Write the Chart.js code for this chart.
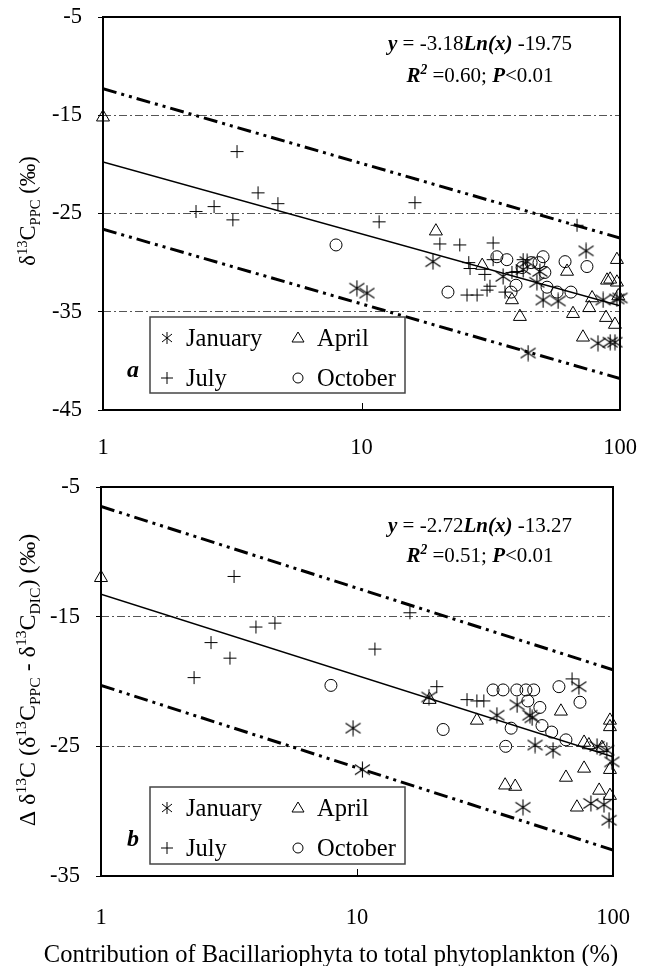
<!DOCTYPE html>
<html>
<head>
<meta charset="utf-8">
<script src="https://cdn.jsdelivr.net/npm/chart.js@4.4.0/dist/chart.umd.min.js"></script>
<style>
body { margin: 0; background: #fff; }
#wrap { position: relative; width: 656px; height: 966px; }
canvas { position: absolute; left: 0; }
</style>
</head>
<body>
<div id="wrap">
  <canvas id="lienzoA" width="656" height="466" style="top:0"></canvas>
  <canvas id="lienzoB" width="656" height="500" style="top:466px"></canvas>
</div>
<script>
// ---- datos ----
const xTicks = [1, 10, 100];
const yTicksA = [-45, -35, -25, -15, -5];
const yTicksB = [-35, -25, -15, -5];
const months = ['January', 'April', 'July', 'October'];

// panel a: d13C PPC
const janA_x = [9.6, 10.5, 18.9, 35.3, 42.2, 43.7, 49.0, 47.7, 50.4, 57.6, 73.9, 86.0, 97.3, 100, 82.2, 91.6, 95.6, 44.1];
const janA_y = [-32.6, -33.1, -29.9, -31.4, -30.7, -29.9, -30.9, -32.0, -33.8, -33.9, -28.8, -33.8, -33.7, -33.6, -38.2, -38.1, -38.1, -39.2];
const aprA_x = [1, 19.4, 29.3, 38.2, 41.0, 62.4, 65.8, 71.9, 78.0, 76.0, 88.3, 89.1, 91.6, 95.6, 97.3, 97.3, 98.5];
const aprA_y = [-15.2, -26.8, -30.3, -33.8, -35.5, -30.9, -35.2, -37.6, -33.6, -34.6, -35.6, -31.8, -31.7, -36.3, -29.7, -32.0, -33.4];
const julA_x = [2.29, 2.69, 3.18, 3.3, 3.98, 4.75, 11.7, 16.1, 20.1, 24.0, 32.3, 26.0, 26.3, 30.0, 32.3, 42.2, 38.2, 40.0, 25.6, 28.0, 30.6, 31.4, 35.9, 68.2];
const julA_y = [-24.8, -24.3, -25.65, -18.7, -22.9, -24.0, -25.85, -23.9, -28.1, -28.2, -28.0, -30.0, -30.6, -31.2, -29.7, -29.7, -31.0, -30.9, -33.3, -33.3, -32.8, -32.4, -33.0, -26.2];
const octA_x = [7.97, 21.6, 33.4, 36.5, 41.8, 45.3, 48.6, 50.4, 51.2, 61.3, 74.5, 39.6, 37.9, 52.2, 57.1, 64.6];
const octA_y = [-28.2, -33.0, -29.4, -29.7, -30.5, -30.0, -30.0, -29.4, -31.0, -29.9, -30.4, -32.3, -33.0, -32.5, -33.0, -33.0];

// panel b: delta d13C (PPC - DIC)
const janB_x = [9.65, 10.5, 19.1, 35.2, 42.2, 47.4, 48.3, 49.6, 58.3, 73.6, 86.6, 94.6, 99, 44.5, 82.0, 92.2, 96.5];
const janB_y = [-23.6, -26.8, -21.2, -22.6, -21.8, -22.6, -22.8, -24.9, -25.3, -20.4, -25.0, -25.3, -26.2, -29.7, -29.4, -29.5, -30.7];
const aprB_x = [1, 19.2, 29.4, 62.6, 77.1, 80.5, 90.5, 97.3, 97.3, 97.3, 77.1, 65.5, 37.9, 41.5, 72.3, 88.3, 97.3];
const aprB_y = [-12.0, -21.4, -23.0, -22.3, -24.7, -24.9, -25.1, -23.0, -23.5, -26.8, -26.7, -27.4, -28.0, -28.1, -29.7, -28.4, -28.8];
const julB_x = [2.31, 2.69, 3.19, 3.31, 4.03, 4.78, 11.75, 16.1, 20.5, 26.9, 29.4, 31.3, 69.2];
const julB_y = [-19.7, -17.0, -18.2, -11.9, -15.8, -15.5, -17.5, -14.7, -20.4, -21.4, -21.5, -21.5, -19.8];
const octB_x = [7.91, 21.7, 34.0, 37.2, 42.1, 45.7, 49.0, 61.5, 74.3, 40.0, 51.8, 52.8, 57.6, 65.5, 38.1, 46.5];
const octB_y = [-20.3, -23.7, -20.65, -20.65, -20.65, -20.65, -20.65, -20.4, -21.6, -23.6, -22.0, -23.4, -23.9, -24.5, -25.0, -21.5];

// lineas de ajuste y limites (extremos en x = 1 y x = 100)
const lineX = [1, 100];
const fitA = [-19.75, -34.39];
const upperA = [-12.3, -27.5];
const lowerA = [-26.6, -41.8];
const fitB = [-13.27, -25.8];
const upperB = [-6.5, -19.1];
const lowerB = [-20.3, -33.0];

const FONT = '"Liberation Serif", "Times New Roman", serif';

// marcador asterisco (January)
const asterisk = document.createElement('canvas');
asterisk.width = 17;
asterisk.height = 17;
(function () {
    const c = asterisk.getContext('2d');
    c.strokeStyle = '#000';
    c.lineWidth = 1.1;
    c.beginPath();
    c.moveTo(8.5, 0.5); c.lineTo(8.5, 16.5);
    c.moveTo(1, 3.5); c.lineTo(16, 13.5);
    c.moveTo(1, 13.5); c.lineTo(16, 3.5);
    c.stroke();
})();

function toPoints(xs, ys) {
    return xs.map((x, i) => ({ x: x, y: ys[i] }));
}

function scatterSet(label, xs, ys, style, radius) {
    return {
        label: label,
        data: toPoints(xs, ys),
        pointStyle: style,
        pointRadius: radius,
        pointBorderColor: '#000',
        pointBackgroundColor: 'rgba(0,0,0,0)',
        pointBorderWidth: 1,
        showLine: false,
        clip: false
    };
}

function lineSet(ys, dash, width) {
    return {
        data: toPoints(lineX, ys),
        showLine: true,
        pointRadius: 0,
        borderColor: '#000',
        borderWidth: width,
        borderDash: dash,
        fill: false
    };
}

// texto con superindices / subindices
function drawRich(ctx, parts, x, y, size, align) {
    let w = 0;
    parts.forEach(p => {
        ctx.font = (p[1] ? 'italic bold ' : '') + (p[2] ? size * 0.65 : size) + 'px ' + FONT;
        w += ctx.measureText(p[0]).width;
    });
    let cx = align === 'center' ? x - w / 2 : x;
    parts.forEach(p => {
        ctx.font = (p[1] ? 'italic bold ' : '') + (p[2] ? size * 0.65 : size) + 'px ' + FONT;
        const dy = p[2] === 'sup' ? -size * 0.36 : (p[2] === 'sub' ? size * 0.2 : 0);
        ctx.fillText(p[0], cx, y + dy);
        cx += ctx.measureText(p[0]).width;
    });
}

function drawMarker(ctx, kind, x, y) {
    ctx.beginPath();
    if (kind === 'ast') {
        ctx.moveTo(x, y - 6); ctx.lineTo(x, y + 6);
        ctx.moveTo(x - 5, y - 4); ctx.lineTo(x + 5, y + 4);
        ctx.moveTo(x - 5, y + 4); ctx.lineTo(x + 5, y - 4);
    } else if (kind === 'tri') {
        ctx.moveTo(x, y - 6); ctx.lineTo(x + 6, y + 4); ctx.lineTo(x - 6, y + 4); ctx.closePath();
    } else if (kind === 'plus') {
        ctx.moveTo(x, y - 6); ctx.lineTo(x, y + 6);
        ctx.moveTo(x - 6, y); ctx.lineTo(x + 6, y);
    } else {
        ctx.arc(x, y, 5, 0, Math.PI * 2);
    }
    ctx.stroke();
}

const panelPlugin = {
    id: 'panel',
    beforeDatasetsDraw(chart) {
        const ctx = chart.ctx, a = chart.chartArea;
        ctx.save();
        ctx.strokeStyle = '#000';
        ctx.lineWidth = 2;
        ctx.strokeRect(a.left, a.top, a.right - a.left, a.bottom - a.top);
        ctx.lineWidth = 1;
        xTicks.slice(1, -1).forEach(v => {
            const px = Math.round(chart.scales.x.getPixelForValue(v)) + 0.5;
            ctx.beginPath();
            ctx.moveTo(px, a.bottom);
            ctx.lineTo(px, a.bottom - 7);
            ctx.stroke();
        });
        ctx.restore();
    },
    afterDatasetsDraw(chart, args, o) {
        const ctx = chart.ctx;
        ctx.save();
        ctx.fillStyle = '#000';
        ctx.textBaseline = 'alphabetic';
        ctx.textAlign = 'left';

        // leyenda
        const b = o.legend;
        ctx.fillStyle = '#fff';
        ctx.fillRect(b[0], b[1], b[2] - b[0], b[3] - b[1]);
        ctx.strokeStyle = '#444';
        ctx.lineWidth = 1.5;
        ctx.strokeRect(b[0], b[1], b[2] - b[0], b[3] - b[1]);
        ctx.strokeStyle = '#000';
        ctx.lineWidth = 1;
        ctx.fillStyle = '#000';
        const kinds = ['ast', 'tri', 'plus', 'circ'];
        months.forEach((m, i) => {
            const col = i % 2, row = i < 2 ? 0 : 1;
            const mx = b[0] + 17 + col * 131;
            const my = b[1] + 21 + row * 40;
            drawMarker(ctx, kinds[i], mx, my);
            ctx.font = '24.5px ' + FONT;
            ctx.fillText(m, mx + 19, my + 8);
        });

        // letra del panel
        ctx.font = 'italic bold 24px ' + FONT;
        ctx.textAlign = 'center';
        ctx.fillText(o.letter, 133, o.letterY);
        ctx.textAlign = 'left';

        // ecuaciones
        drawRich(ctx, o.eq1, o.eqX, o.eqY[0], 21, 'center');
        drawRich(ctx, o.eq2, o.eqX, o.eqY[1], 21, 'center');

        // titulo eje y
        ctx.save();
        ctx.translate(35, o.yTitleY);
        ctx.rotate(-Math.PI / 2);
        drawRich(ctx, o.yTitle, 0, 0, o.yTitleSize, 'center');
        ctx.restore();

        // titulo eje x
        if (o.xTitle) {
            ctx.font = '24.5px ' + FONT;
            ctx.textAlign = 'center';
            ctx.fillText(o.xTitle, 331, 496);
        }
        ctx.restore();
    }
};

function makeChart(id, sets, yMin, yMax, yTicks, dims, panel) {
    return new Chart(document.getElementById(id).getContext('2d'), {
        type: 'scatter',
        data: { datasets: sets },
        options: {
            responsive: false,
            animation: false,
            layout: { padding: { left: 0, right: dims.right, top: dims.top, bottom: 0 } },
            plugins: { legend: { display: false }, tooltip: { enabled: false }, panel: panel },
            scales: {
                x: {
                    type: 'logarithmic', min: 1, max: 100,
                    afterBuildTicks: s => { s.ticks = xTicks.map(v => ({ value: v })); },
                    afterFit: s => { s.height = dims.xh; s.paddingLeft = 0; s.paddingRight = 0; },
                    ticks: {
                        font: { family: FONT, size: 22.5 }, color: '#000', padding: dims.xpad,
                        autoSkip: false, maxRotation: 0, callback: v => String(v)
                    },
                    grid: { display: false, drawTicks: false },
                    border: { display: false }
                },
                y: {
                    type: 'linear', min: yMin, max: yMax,
                    afterBuildTicks: s => { s.ticks = yTicks.map(v => ({ value: v })); },
                    afterFit: s => { s.width = dims.yw; s.paddingTop = 0; s.paddingBottom = 0; },
                    ticks: { font: { family: FONT, size: 22.5 }, color: '#000', padding: 16, callback: v => String(v) },
                    grid: { color: '#555', lineWidth: 1, tickColor: '#000', tickLength: 5, drawTicks: true },
                    border: { display: false, dash: [8, 3, 2, 3] }
                }
            }
        },
        plugins: [panelPlugin]
    });
}

const dashDot = [14, 5, 3, 5, 3, 5];

const chartA = makeChart('lienzoA', [
    scatterSet(months[0], janA_x, janA_y, asterisk, 8),
    scatterSet(months[1], aprA_x, aprA_y, 'triangle', 7.5),
    scatterSet(months[2], julA_x, julA_y, 'cross', 6.5),
    scatterSet(months[3], octA_x, octA_y, 'circle', 6),
    lineSet(fitA, [], 1.5),
    lineSet(upperA, dashDot, 3),
    lineSet(lowerA, dashDot, 3)
], -45, -5, yTicksA, { right: 36, top: 17, xh: 56, yw: 103, xpad: 25 }, {
    legend: [150, 317, 405, 393],
    letter: 'a', letterY: 377,
    eqX: 480, eqY: [50, 82],
    eq1: [['y', true], [' = -3.18', false], ['Ln(x)', true], [' -19.75', false]],
    eq2: [['R', true], ['2', true, 'sup'], [' =0.60; ', false], ['P', true], ['<0.01', false]],
    yTitleY: 211, yTitleSize: 22.5,
    yTitle: [['δ', false], ['13', false, 'sup'], ['C', false], ['PPC', false, 'sub'], [' (‰)', false]]
});

const chartB = makeChart('lienzoB', [
    scatterSet(months[0], janB_x, janB_y, asterisk, 8),
    scatterSet(months[1], aprB_x, aprB_y, 'triangle', 7.5),
    scatterSet(months[2], julB_x, julB_y, 'cross', 6.5),
    scatterSet(months[3], octB_x, octB_y, 'circle', 6),
    lineSet(fitB, [], 1.5),
    lineSet(upperB, dashDot, 3),
    lineSet(lowerB, dashDot, 3)
], -35, -5, yTicksB, { right: 43, top: 21, xh: 90, yw: 101, xpad: 29 }, {
    legend: [150, 321, 405, 398],
    letter: 'b', letterY: 380,
    eqX: 480, eqY: [66, 96],
    eq1: [['y', true], [' = -2.72', false], ['Ln(x)', true], [' -13.27', false]],
    eq2: [['R', true], ['2', true, 'sup'], [' =0.51; ', false], ['P', true], ['<0.01', false]],
    yTitleY: 214, yTitleSize: 24,
    yTitle: [['Δ δ', false], ['13', false, 'sup'], ['C (δ', false], ['13', false, 'sup'], ['C', false], ['PPC', false, 'sub'],
             [' - δ', false], ['13', false, 'sup'], ['C', false], ['DIC', false, 'sub'], [') (‰)', false]],
    xTitle: 'Contribution of Bacillariophyta to total phytoplankton (%)'
});
</script>
</body>
</html>
